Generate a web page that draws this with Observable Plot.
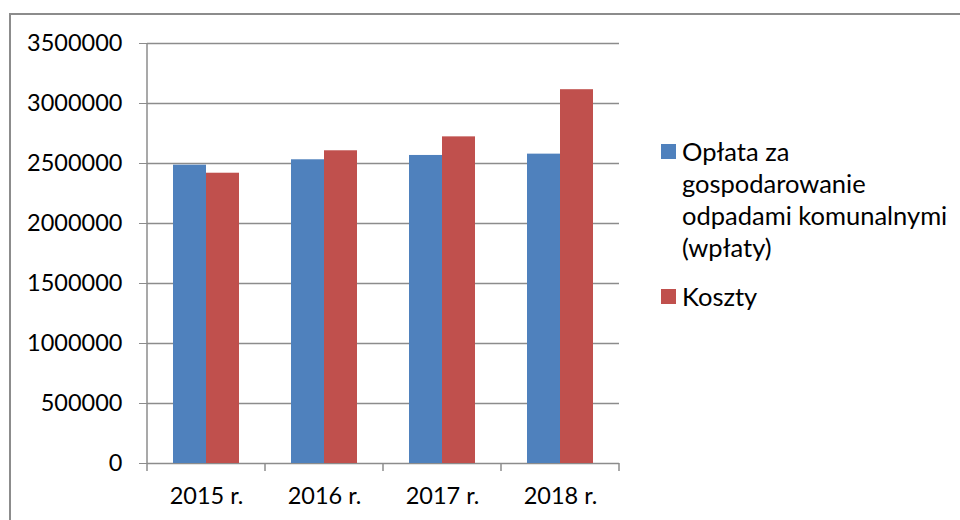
<!DOCTYPE html>
<html>
<head>
<meta charset="utf-8">
<script src="https://cdn.jsdelivr.net/npm/d3@7"></script>
<script src="https://cdn.jsdelivr.net/npm/@observablehq/plot@0.6"></script>
<style>
  html, body { margin: 0; padding: 0; background: #fff; overflow: hidden; }
  #wrap { position: relative; width: 960px; height: 520px; overflow: hidden; font-family: Lato, "Open Sans", sans-serif; }
  #border { position: absolute; left: 9px; top: 13px; width: 1000px; height: 600px; border: 2px solid #8c8c8c; box-sizing: border-box; }
  #plot { position: absolute; left: 0; top: 0; }
  #plot svg text { fill: #000; }
  #legend { position: absolute; left: 661px; top: 135px; font-size: 25.5px; line-height: 32px; color: #000; }
  .row { display: flex; align-items: flex-start; margin-bottom: 17px; }
  .sw { width: 15px; height: 15px; margin-top: 9px; margin-right: 6px; flex: none; }
  .lab { width: 275px; }
</style>
</head>
<body>
<div id="wrap">
  <div id="border"></div>
  <div id="plot"></div>
  <div id="legend"></div>
</div>
<script>
const years = ["2015 r.", "2016 r.", "2017 r.", "2018 r."];
const seriesNames = ["Opłata za gospodarowanie odpadami komunalnymi (wpłaty)", "Koszty"];
const oplata = [2486000, 2531000, 2567000, 2578000];
const koszty = [2419000, 2606000, 2722000, 3115000];
const seriesColors = ["#4F81BD", "#C0504D"];
const yTicks = [0, 500000, 1000000, 1500000, 2000000, 2500000, 3000000, 3500000];

const seriesValues = [oplata, koszty];
const data = years.flatMap((yr, i) => seriesNames.map((s, j) => ({year: yr, series: s, value: seriesValues[j][i]})));

const gray = "#8c8c8c";

const chart = Plot.plot({
  width: 640,
  height: 520,
  marginLeft: 146,
  marginRight: 21,
  marginTop: 43,
  marginBottom: 57,
  style: {fontSize: "23.5px", fontFamily: "Lato, 'Open Sans', sans-serif", color: gray, background: "transparent", overflow: "visible"},
  fx: {domain: years, padding: 0, label: null, axis: "bottom", tickSize: 0, tickPadding: 24},
  x: {domain: seriesNames, paddingInner: 0, paddingOuter: 0.75, axis: null},
  y: {domain: [0, 3500000], ticks: yTicks, tickSize: 8, tickPadding: 17, tickFormat: d3.format("d"), label: null},
  color: {domain: seriesNames, range: seriesColors},
  marks: [
    Plot.ruleY(yTicks, {stroke: gray, strokeWidth: 1.5}),
    Plot.barY(data, {fx: "year", x: "series", y: "value", fill: "series"})
  ]
});

document.getElementById("plot").appendChild(chart);

// Category boundary ticks and vertical axis line, positioned from Plot's scales
try {
  const fxs = chart.scale("fx"), ys = chart.scale("y");
  const y0 = ys.apply(0), yTop = ys.apply(yTicks[yTicks.length - 1]);
  const bounds = years.map(y => fxs.apply(y));
  bounds.push(fxs.apply(years[years.length - 1]) + fxs.bandwidth);
  const g = d3.select(chart).append("g").attr("stroke", gray).attr("stroke-width", 1.5);
  g.selectAll("line.b").data(bounds).join("line")
    .attr("x1", d => d).attr("x2", d => d).attr("y1", y0).attr("y2", y0 + 8);
  g.append("line").attr("x1", bounds[0]).attr("x2", bounds[0]).attr("y1", yTop).attr("y2", y0);
} catch (e) { console.error(e); }

// Legend
const legend = d3.select("#legend");
seriesNames.forEach((s, i) => {
  const row = legend.append("div").attr("class", "row");
  row.append("div").attr("class", "sw").style("background", seriesColors[i]);
  row.append("div").attr("class", "lab").text(s);
});
</script>
</body>
</html>
